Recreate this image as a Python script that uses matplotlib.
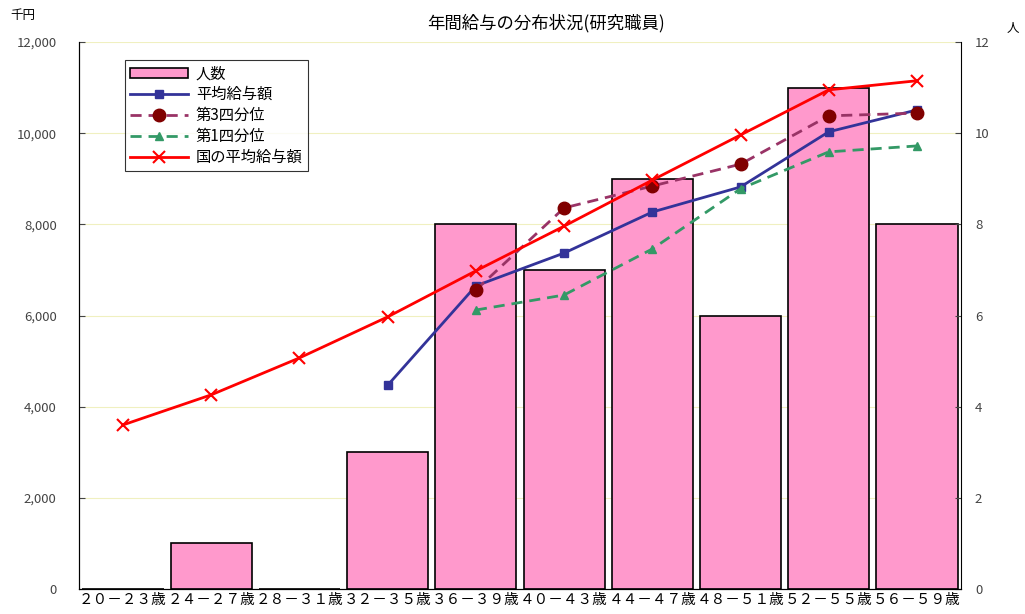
import matplotlib
matplotlib.use("Agg")
import matplotlib.pyplot as plt
import numpy as np

plt.rcParams['font.family'] = ['Noto Sans CJK JP', 'DejaVu Sans']

# data
categories = ["２０－２３歳", "２４－２７歳", "２８－３１歳", "３２－３５歳", "３６－３９歳",
              "４０－４３歳", "４４－４７歳", "４８－５１歳", "５２－５５歳", "５６－５９歳"]
headcount = [0, 1, 0, 3, 8, 7, 9, 6, 11, 8]
avg_pay = [None, None, None, 4470, 6650, 7370, 8270, 8820, 10030, 10510]
q3_pay = [None, None, None, None, 6560, 8360, 8840, 9320, 10380, 10440]
q1_pay = [None, None, None, None, 6120, 6450, 7460, 8780, 9590, 9720]
national_pay = [3600, 4260, 5070, 5970, 6980, 7960, 8970, 9960, 10950, 11150]


def as_array(vals):
    return np.array([np.nan if v is None else v for v in vals], dtype=float)


x = np.arange(len(categories))

fig = plt.figure(figsize=(10.25, 6.14), dpi=100)
ax = fig.add_axes([0.077, 0.0407, 0.8606, 0.8909])
ax2 = ax.twinx()

# faint grid behind the bars
for v in range(2, 13, 2):
    ax2.axhline(v, color="#F0F0C0", lw=0.8, zorder=0)

# bars on the right axis (people)
bars = ax2.bar(x, headcount, width=0.92, color="#FF99CC",
               edgecolor="black", linewidth=1.2, label="人数", zorder=1)
ax2.set_ylim(0, 12)
ax2.set_yticks(range(0, 13, 2))

# lines on the left axis (thousand yen), drawn above bars
ax.set_zorder(ax2.get_zorder() + 1)
ax.patch.set_visible(False)

l1, = ax.plot(x, as_array(avg_pay), color="#333399", lw=2,
              marker="s", ms=6, label="平均給与額")
l2, = ax.plot(x, as_array(q3_pay), color="#993366", lw=2, ls=(0, (4, 2.5)),
              marker="o", ms=9, mfc="#800000", mec="#800000", label="第3四分位")
l3, = ax.plot(x, as_array(q1_pay), color="#339966", lw=2, ls=(0, (4, 2.5)),
              marker="^", ms=6, label="第1四分位")
l4, = ax.plot(x, as_array(national_pay), color="#FF0000", lw=2,
              marker="x", ms=9, mew=1.5, label="国の平均給与額")

ax.set_xlim(-0.5, len(categories) - 0.5)
ax.set_ylim(0, 12000)
ax.set_yticks(range(0, 12001, 2000))
ax.set_yticklabels([f"{v:,}" for v in range(0, 12001, 2000)])
ax.set_xticks(x)
ax.set_xticklabels(categories, fontsize=10.5)

for a in (ax, ax2):
    a.spines["top"].set_visible(False)
    a.tick_params(axis="y", labelsize=9.5, colors="#444444", length=4, direction="in")
    a.tick_params(axis="x", length=0, pad=3)
ax.tick_params(axis="y", pad=16)
ax2.tick_params(axis="y", pad=10)
ax.spines["right"].set_visible(False)

leg = ax.legend([bars, l1, l2, l3, l4],
                ["人数", "平均給与額", "第3四分位", "第1四分位", "国の平均給与額"],
                loc="upper left", bbox_to_anchor=(0.052, 0.967), fontsize=11,
                frameon=True, fancybox=False, edgecolor="black",
                handlelength=3.8, handleheight=0.6, labelspacing=0.25,
                borderpad=0.35, borderaxespad=0, handletextpad=0.5)
leg.get_frame().set_linewidth(0.8)
leg._legend_box.align = "left"

fig.text(0.533, 0.962, "年間給与の分布状況(研究職員)", ha="center", va="center", fontsize=12.5)
fig.text(0.022, 0.975, "千円", ha="center", va="center", fontsize=9)
fig.text(0.988, 0.953, "人", ha="center", va="center", fontsize=9)

fig.savefig("out.png", dpi=100)
plt.close(fig)
